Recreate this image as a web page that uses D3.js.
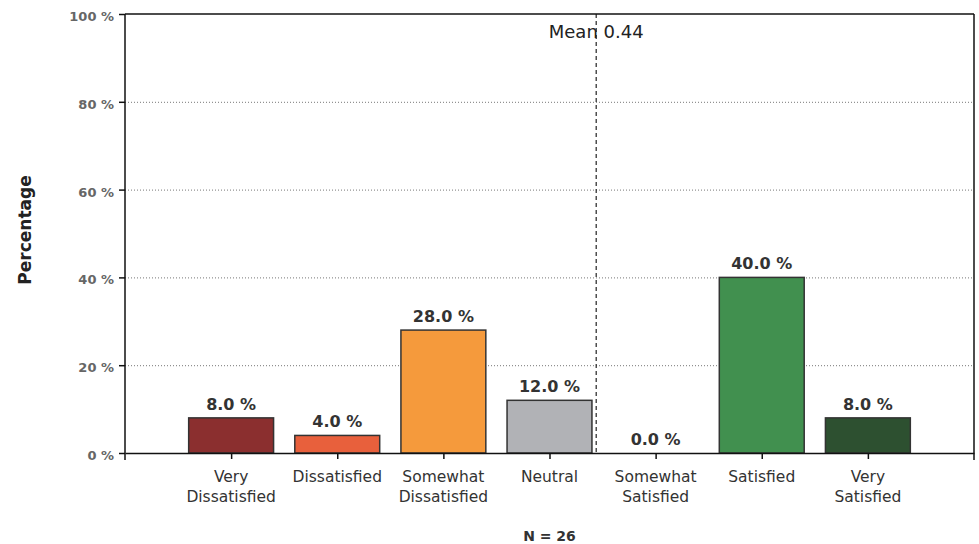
<!DOCTYPE html>
<html><head><meta charset="utf-8">
<script src="https://cdn.jsdelivr.net/npm/d3@7"></script>
<style>body{margin:0;background:#fff}svg{display:block}</style>
</head><body><svg id="c" width="979" height="544"></svg>
<script>
const categories = [["Very","Dissatisfied"],["Dissatisfied"],["Somewhat","Dissatisfied"],["Neutral"],["Somewhat","Satisfied"],["Satisfied"],["Very","Satisfied"]];
const scores = [-3,-2,-1,0,1,2,3];
const values = [8.0,4.0,28.0,12.0,0.0,40.0,8.0];
const colors = ["#8b2f2f","#e8603c","#f59a3c","#b1b2b6","#d9d9d9","#41904f","#2d5030"];
const yTicks = [0,20,40,60,80,100];
const meanValue = 0.44;
const nLabel = "N = 26";
const yTitle = "Percentage";

const svg = d3.select("#c");
const L=125,R=974,T=14,B=453;
const x = d3.scaleLinear().domain([-4,4]).range([L,R]);
const y = d3.scaleLinear().domain([0,100]).range([B,T]);
const font = "'DejaVu Sans', Verdana, sans-serif";

// gridlines
svg.append("g").selectAll("line").data(yTicks.filter(d=>d>0&&d<100)).join("line")
  .attr("x1",L).attr("x2",R).attr("y1",d=>y(d)+0.5).attr("y2",d=>y(d)+0.5)
  .attr("stroke","#777").attr("stroke-width",1).attr("stroke-dasharray","1,2");

// bars
const bw = x(0.8)-x(0);
svg.append("g").selectAll("rect").data(values).join("rect")
  .attr("x",(d,i)=>x(scores[i])-bw/2).attr("width",bw)
  .attr("y",d=>y(d)).attr("height",d=>B-y(d))
  .attr("fill",(d,i)=>colors[i]).attr("stroke",d=>d>0?"#333":"none").attr("stroke-width",1.5);

// value labels
svg.append("g").selectAll("text").data(values).join("text")
  .attr("x",(d,i)=>x(scores[i])).attr("y",d=>y(d)-8)
  .attr("text-anchor","middle").attr("font-family",font).attr("font-size",16).attr("font-weight","bold")
  .attr("fill","#333").text(d=>d.toFixed(1)+" %");

// mean line
svg.append("line").attr("x1",x(meanValue)).attr("x2",x(meanValue)).attr("y1",T).attr("y2",B)
  .attr("stroke","#222").attr("stroke-width",1.2).attr("stroke-dasharray","4,3");
svg.append("text").attr("x",x(meanValue)).attr("y",38).attr("text-anchor","middle")
  .attr("font-family",font).attr("font-size",18).attr("fill","#222").text("Mean 0.44");

// frame
svg.append("line").attr("x1",L).attr("x2",R).attr("y1",T).attr("y2",T).attr("stroke","#111").attr("stroke-width",1.5);
svg.append("line").attr("x1",R).attr("x2",R).attr("y1",T).attr("y2",B+7).attr("stroke","#111").attr("stroke-width",1.5);

// y axis
const ya = svg.append("g").attr("transform",`translate(${L},0)`)
  .call(d3.axisLeft(y).tickValues(yTicks).tickFormat(d=>d+" %").tickSize(6).tickSizeOuter(0));
ya.select(".domain").remove();
ya.selectAll(".tick line").attr("stroke","#111").attr("stroke-width",1.5);
ya.selectAll(".tick text").attr("font-family",font).attr("font-size",13).attr("font-weight","bold").attr("fill","#666").attr("x",-11).attr("dy","0.5em");
svg.append("line").attr("x1",L).attr("x2",L).attr("y1",T).attr("y2",B+7).attr("stroke","#111").attr("stroke-width",1.5);

// x axis
const xa = svg.append("g").attr("transform",`translate(0,${B})`)
  .call(d3.axisBottom(x).tickValues(scores).tickFormat("").tickSize(6).tickSizeOuter(0));
xa.select(".domain").attr("stroke","#111").attr("stroke-width",1.5);
xa.selectAll(".tick line").attr("stroke","#111").attr("stroke-width",1.5);

const cl = svg.append("g").selectAll("text").data(categories).join("text")
  .attr("text-anchor","middle").attr("font-family",font).attr("font-size",15.5).attr("fill","#333");
cl.each(function(d,i){
  const t=d3.select(this);
  d.forEach((s,j)=>t.append("tspan").attr("x",x(scores[i])).attr("y",482+j*20).text(s));
});

// titles
svg.append("text").attr("transform","translate(31,230) rotate(-90)").attr("text-anchor","middle")
  .attr("font-family",font).attr("font-size",17).attr("font-weight","bold").attr("fill","#222").text(yTitle);
svg.append("text").attr("x",x(0)).attr("y",541).attr("text-anchor","middle")
  .attr("font-family",font).attr("font-size",14).attr("font-weight","bold").attr("fill","#333").text(nLabel);
</script></body></html>
